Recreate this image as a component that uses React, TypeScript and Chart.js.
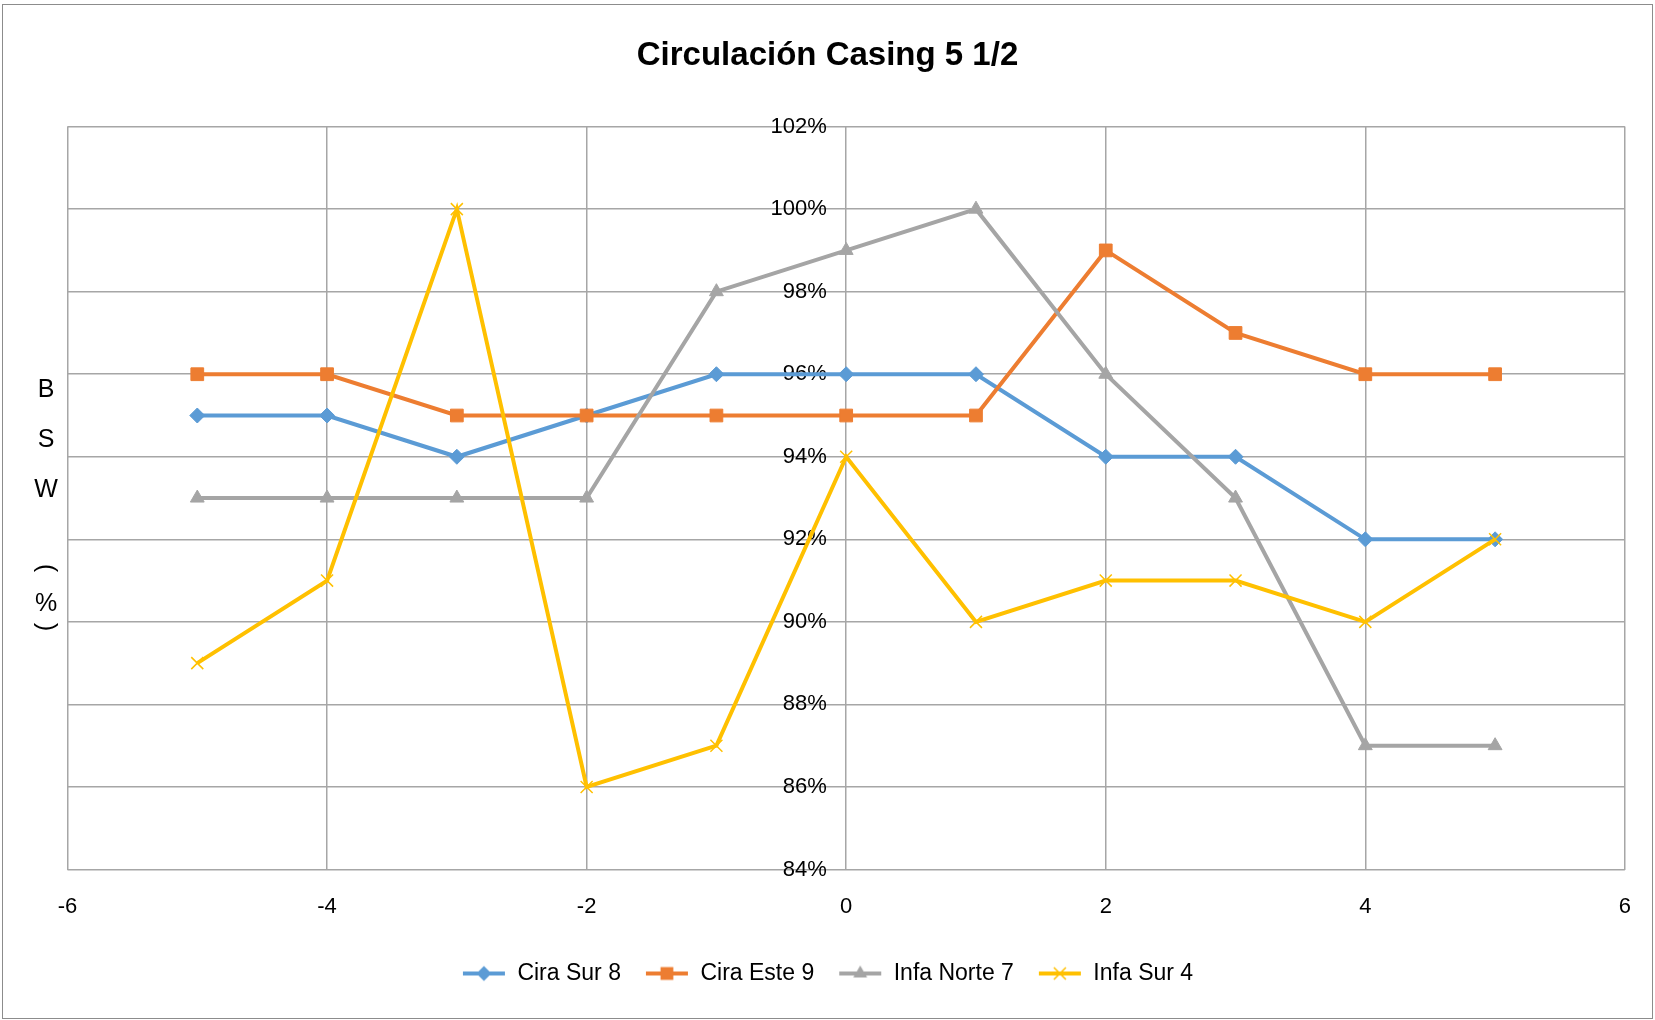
import React, { useEffect, useRef } from 'react';
import { Chart, registerables } from 'chart.js';

Chart.register(...registerables);

// ---- Data ----
const xValues = [-5, -4, -3, -2, -1, 0, 1, 2, 3, 4, 5];
const ciraSur8 = [95, 95, 94, 95, 96, 96, 96, 94, 94, 92, 92];
const ciraEste9 = [96, 96, 95, 95, 95, 95, 95, 99, 97, 96, 96];
const infaNorte7 = [93, 93, 93, 93, 98, 99, 100, 96, 93, 87, 87];
const infaSur4 = [89, 91, 100, 86, 87, 94, 90, 91, 91, 90, 92];
const seriesNames = ['Cira Sur 8', 'Cira Este 9', 'Infa Norte 7', 'Infa Sur 4'];
const xAxisRange = [-6, 6];
const xAxisStep = 2;
const yAxisRange = [84, 102];
const yAxisStep = 2;
const chartTitle = 'Circulación Casing 5 1/2';
const yAxisTitleLetters = ['B', 'S', 'W'];
const yAxisTitleUnit = ['(', '%', ')'];

const COLORS = ['#5B9BD5', '#ED7D31', '#A5A5A5', '#FFC000'];
const POINT_STYLES = ['rectRot', 'rect', 'triangle', 'crossRot'];
const POINT_RADII = [7.5, 9, 8, 8.5];
const FONT = "'Liberation Sans', Arial, sans-serif";

function makeLegendImage(color: string, style: string): HTMLCanvasElement {
  const c = document.createElement('canvas');
  c.width = 44;
  c.height = 20;
  const ctx = c.getContext('2d')!;
  const cx = 22, cy = 10;
  ctx.strokeStyle = color;
  ctx.fillStyle = color;
  ctx.lineWidth = 4;
  ctx.beginPath();
  ctx.moveTo(1, cy);
  ctx.lineTo(43, cy);
  ctx.stroke();
  ctx.beginPath();
  if (style === 'rectRot') {
    const r = 7.5;
    ctx.moveTo(cx - r, cy); ctx.lineTo(cx, cy - r); ctx.lineTo(cx + r, cy); ctx.lineTo(cx, cy + r);
    ctx.closePath(); ctx.fill();
  } else if (style === 'rect') {
    const s = 6.4;
    ctx.rect(cx - s, cy - s, 2 * s, 2 * s); ctx.fill();
  } else if (style === 'triangle') {
    const r = 8;
    ctx.moveTo(cx, cy - r);
    ctx.lineTo(cx + r * 0.866, cy + r * 0.5);
    ctx.lineTo(cx - r * 0.866, cy + r * 0.5);
    ctx.closePath(); ctx.fill();
  } else {
    const d = 6;
    ctx.lineWidth = 1.5;
    ctx.moveTo(cx - d, cy - d); ctx.lineTo(cx + d, cy + d);
    ctx.moveTo(cx + d, cy - d); ctx.lineTo(cx - d, cy + d);
    ctx.stroke();
  }
  return c;
}

const bswPlugin = {
  id: 'bswLabel',
  afterDraw(chart: any) {
    const ctx = chart.ctx as CanvasRenderingContext2D;
    ctx.save();
    ctx.font = "25px 'Liberation Sans', sans-serif";
    ctx.fillStyle = '#000';
    ctx.textAlign = 'center';
    ctx.textBaseline = 'middle';
    const x = 46;
    const ys = [390, 440, 490];
    yAxisTitleLetters.forEach((ch, i) => ctx.fillText(ch, x, ys[i]));
    // rotated "(%)" read bottom to top
    const unitY = [627, 604, 568];
    yAxisTitleUnit.forEach((ch, i) => {
      if (ch === '%') {
        ctx.fillText(ch, x, unitY[i]);
      } else {
        ctx.save();
        ctx.translate(x, unitY[i]);
        ctx.rotate(-Math.PI / 2);
        ctx.fillText(ch, 0, 0);
        ctx.restore();
      }
    });
    ctx.restore();
  },
};

export default function App() {
  const canvasRef = useRef<HTMLCanvasElement | null>(null);

  useEffect(() => {
    document.body.style.margin = '0';
    const canvas = canvasRef.current;
    if (!canvas) return;
    const series = [ciraSur8, ciraEste9, infaNorte7, infaSur4];
    const legendImages = COLORS.map((c, i) => makeLegendImage(c, POINT_STYLES[i]));
    const gridColor = '#A6A6A6';

    const chart = new Chart(canvas, {
      type: 'line',
      data: {
        datasets: series.map((vals, i) => ({
          label: seriesNames[i],
          data: xValues.map((x, j) => ({ x, y: vals[j] })),
          borderColor: COLORS[i],
          backgroundColor: COLORS[i],
          pointBackgroundColor: COLORS[i],
          pointBorderColor: COLORS[i],
          pointBorderWidth: i === 3 ? 1.5 : 1,
          pointStyle: POINT_STYLES[i] as any,
          pointRadius: POINT_RADII[i],
          borderWidth: 4,
          tension: 0,
          fill: false,
          order: 4 - i,
        })),
      },
      options: {
        responsive: false,
        animation: false,
        layout: { padding: { left: 10, right: 10, top: 0, bottom: 25 } },
        scales: {
          x: {
            type: 'linear',
            position: 'bottom',
            min: xAxisRange[0],
            max: xAxisRange[1],
            ticks: {
              stepSize: xAxisStep,
              color: '#000',
              font: { family: FONT, size: 22 },
              padding: 24,
              maxRotation: 0,
            },
            grid: { color: gridColor, lineWidth: 1.5, drawTicks: false },
            border: { display: false },
            afterFit: (s: any) => { s.height = 68.5; },
          },
          y: {
            type: 'linear',
            position: { x: -0.15 } as any,
            min: yAxisRange[0],
            max: yAxisRange[1],
            ticks: {
              stepSize: yAxisStep,
              color: '#000',
              font: { family: FONT, size: 22 },
              callback: (v: any) => v + '%',
            },
            grid: { color: gridColor, lineWidth: 1.5, drawTicks: false },
            border: { display: false },
          },
          padLeft: {
            type: 'linear',
            axis: 'y',
            position: 'left',
            ticks: { display: false },
            grid: { display: false },
            border: { display: false },
            afterFit: (s: any) => { s.width = 57.5; },
          } as any,
          padRight: {
            type: 'linear',
            axis: 'y',
            position: 'right',
            ticks: { display: false },
            grid: { display: false },
            border: { display: false },
            afterFit: (s: any) => { s.width = 16; },
          } as any,
        },
        plugins: {
          title: {
            display: true,
            text: chartTitle,
            color: '#000',
            font: { family: FONT, size: 33, weight: 'bold' },
            padding: { top: 36, bottom: 51 },
          },
          legend: {
            display: true,
            position: 'bottom',
            labels: {
              color: '#000',
              font: { family: FONT, size: 23 },
              usePointStyle: true,
              pointStyleWidth: 44,
              padding: 24,
              generateLabels: (ch: any) =>
                ch.data.datasets.map((ds: any, i: number) => ({
                  text: ds.label,
                  fillStyle: COLORS[i],
                  strokeStyle: COLORS[i],
                  lineWidth: 0,
                  pointStyle: legendImages[i],
                  hidden: false,
                  datasetIndex: i,
                  fontColor: '#000',
                })),
            },
          },
          tooltip: { enabled: false },
        },
      },
      plugins: [bswPlugin],
    });
    return () => chart.destroy();
  }, []);

  return (
    <div style={{ position: 'relative', width: 1655, height: 1020 }}>
      <canvas ref={canvasRef} width={1655} height={1020} style={{ display: 'block' }} />
      <div
        style={{
          position: 'absolute',
          left: 2,
          top: 4,
          width: 1651,
          height: 1015,
          boxSizing: 'border-box',
          border: '1.5px solid #8c8c8c',
          pointerEvents: 'none',
        }}
      />
    </div>
  );
}
